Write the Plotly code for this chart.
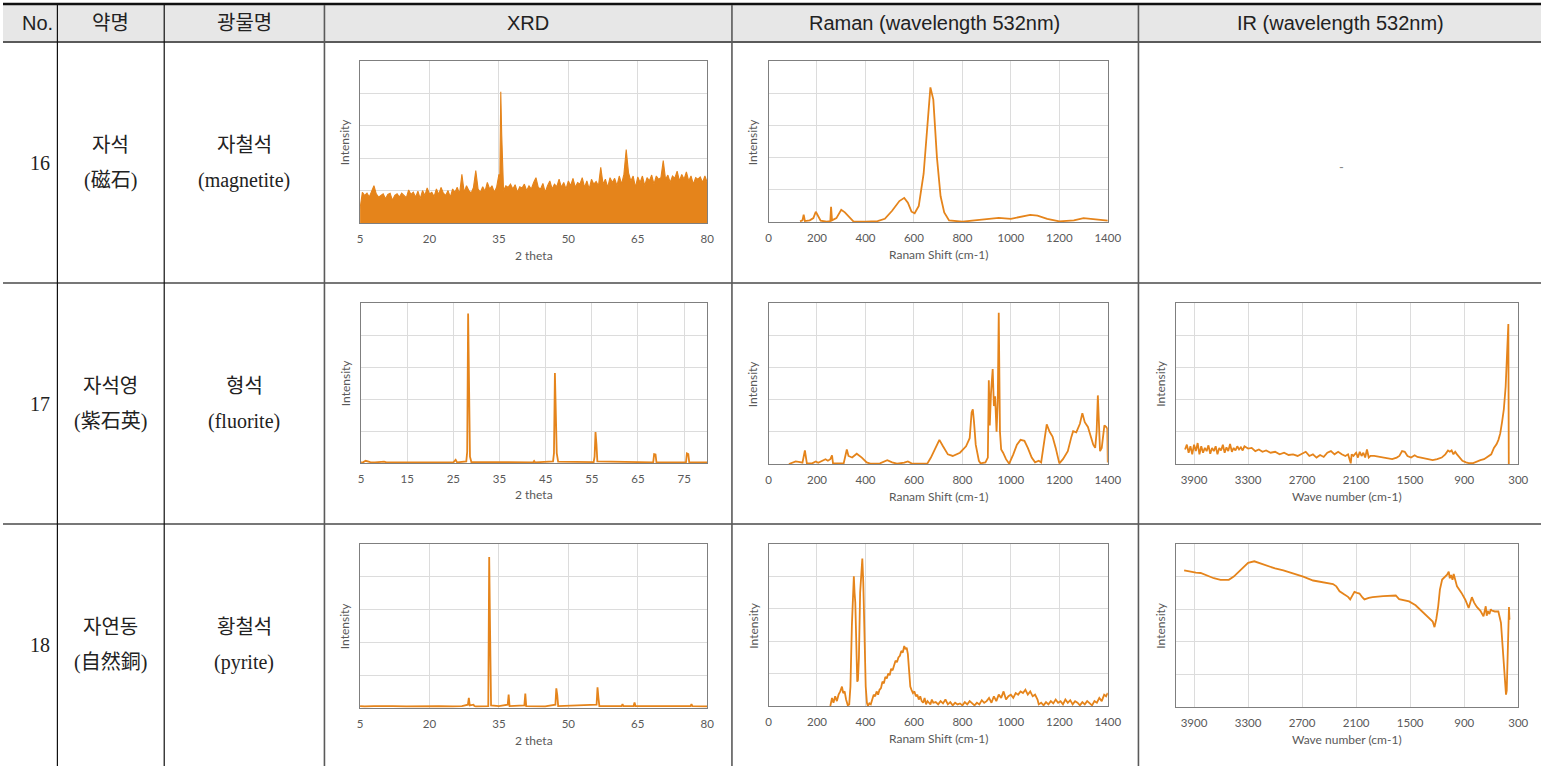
import plotly.graph_objects as go

# ---------------- DATA ----------------
header_labels = ["No.", "약명", "광물명", "XRD", "Raman (wavelength 532nm)", "IR (wavelength 532nm)"]
row_numbers = ["16", "17", "18"]
drug_names = ["자석", "자석영", "자연동"]
drug_hanja = ["(磁石)", "(紫石英)", "(自然銅)"]
mineral_names = ["자철석", "형석", "황철석"]
mineral_en = ["(magnetite)", "(fluorite)", "(pyrite)"]

xrd_ticks_16 = [5, 20, 35, 50, 65, 80]
xrd_ticks_17 = [5, 15, 25, 35, 45, 55, 65, 75]
xrd_ticks_18 = [5, 20, 35, 50, 65, 80]
raman_ticks = [0, 200, 400, 600, 800, 1000, 1200, 1400]
ir_ticks = [3900, 3300, 2700, 2100, 1500, 900, 300]

# XRD 16 magnetite (noisy envelope)
xrd16_x = [5.0, 5.5, 6.0, 6.5, 7.0, 7.5, 8.0, 8.5, 9.0, 9.5, 10.0, 10.5, 11.0, 11.5, 12.0, 12.5,
           13.0, 13.5, 14.0, 14.5, 15.0, 15.5, 16.0, 16.5, 17.0, 17.5, 18.0, 18.5, 19.0, 19.5,
           20.0, 20.5, 21.0, 21.5, 22.0, 22.5, 23.0, 23.5, 24.0, 24.5, 25.0, 25.5, 26.0, 26.5,
           27.0, 27.5, 28.0, 28.5, 29.0, 29.5, 30.0, 30.5, 31.0, 31.5, 32.0, 32.5, 33.0, 33.5,
           34.0, 34.5, 35.0, 35.2, 35.4, 35.6, 35.8, 36.0, 36.5, 37.0, 37.5, 38.0, 38.5, 39.0,
           39.5, 40.0, 40.5, 41.0, 41.5, 42.0, 42.5, 43.0, 43.5, 44.0, 44.5, 45.0, 45.5, 46.0,
           46.5, 47.0, 47.5, 48.0, 48.5, 49.0, 49.5, 50.0, 50.5, 51.0, 51.5, 52.0, 52.5, 53.0,
           53.5, 54.0, 54.5, 55.0, 55.5, 56.0, 56.5, 57.0, 57.5, 58.0, 58.5, 59.0, 59.5, 60.0,
           60.5, 61.0, 61.5, 62.0, 62.5, 63.0, 63.5, 64.0, 64.5, 65.0, 65.5, 66.0, 66.5, 67.0,
           67.5, 68.0, 68.5, 69.0, 69.5, 70.0, 70.5, 71.0, 71.5, 72.0, 72.5, 73.0, 73.5, 74.0,
           74.5, 75.0, 75.5, 76.0, 76.5, 77.0, 77.5, 78.0, 78.5, 79.0, 79.5, 80.0]
xrd16_y = [0.45, 0.95, 0.85, 0.92, 0.80, 0.95, 1.15, 0.90, 0.80, 0.85, 0.90, 0.75, 0.88, 0.92, 0.70, 0.85,
           0.90, 0.80, 0.92, 0.85, 0.78, 1.02, 0.88, 0.95, 0.80, 0.98, 0.75, 1.00, 0.85, 1.08,
           0.90, 0.95, 0.82, 1.05, 0.88, 1.10, 0.92, 0.85, 1.00, 0.80, 1.05, 0.95, 1.10, 0.90,
           1.50, 0.95, 1.15, 1.00, 0.92, 1.10, 1.62, 1.05, 0.95, 1.12, 0.98, 1.25, 1.05, 1.15,
           0.95, 1.10, 1.50, 1.40, 4.05, 2.75, 1.30, 1.00, 1.15, 1.10, 1.20, 1.05, 1.18, 0.95,
           1.12, 1.08, 1.20, 1.00, 1.15, 1.05, 1.25, 1.40, 1.10, 1.05, 1.22, 0.95, 1.15, 1.30,
           1.05, 1.20, 1.12, 1.35, 1.10, 1.25, 1.05, 1.30, 1.15, 1.38, 1.10, 1.25, 1.20, 1.40,
           1.10, 1.30, 1.05, 1.35, 1.20, 1.28, 1.15, 1.72, 1.20, 1.35, 1.10, 1.40, 1.25, 1.38,
           1.15, 1.45, 1.20, 1.50, 2.27, 1.55, 1.30, 1.45, 1.10, 1.42, 1.25, 1.45, 1.15, 1.40,
           1.30, 1.48, 1.20, 1.45, 1.35, 1.40, 1.93, 1.35, 1.48, 1.25, 1.45, 1.38, 1.60, 1.30,
           1.50, 1.35, 1.58, 1.30, 1.45, 1.20, 1.40, 1.35, 1.42, 1.25, 1.45, 1.25]

# XRD 17 fluorite
xrd17_x = [5, 5.5, 6, 6.5, 7, 8, 10, 10.5, 15, 20, 25, 25.5, 25.8, 27.8, 28.0, 28.2, 28.4, 28.6, 28.9,
           35, 42.3, 42.5, 42.7, 46.6, 46.8, 47.0, 47.2, 47.4, 47.7, 55.4, 55.6, 55.8, 56.0, 56.2,
           68.3, 68.5, 68.8, 69.0, 75.4, 75.6, 75.9, 76.1, 80]
xrd17_y = [0.02, 0.03, 0.07, 0.05, 0.03, 0.02, 0.04, 0.02, 0.02, 0.02, 0.02, 0.10, 0.02, 0.05, 0.35, 4.67, 2.71, 0.20, 0.03,
           0.02, 0.02, 0.06, 0.02, 0.05, 0.31, 2.81, 1.64, 0.31, 0.04, 0.03, 0.20, 0.97, 0.59, 0.05,
           0.02, 0.28, 0.27, 0.02, 0.02, 0.30, 0.28, 0.03, 0.02]

# XRD 18 pyrite
xrd18_x = [5, 6, 8, 10, 12, 15, 18, 20, 22, 25, 27, 28.3, 28.5, 28.7, 29.5, 29.7, 30, 32.7, 32.9, 33.1, 33.3,
           35, 36.9, 37.1, 37.3, 40.5, 40.7, 40.9, 45, 47.2, 47.4, 47.6, 47.8, 56.1, 56.3, 56.5, 56.7,
           58, 61.5, 61.7, 61.9, 64.1, 64.3, 64.5, 70, 76.4, 76.6, 76.8, 80]
xrd18_y = [0.06, 0.05, 0.06, 0.05, 0.06, 0.05, 0.06, 0.05, 0.06, 0.05, 0.06, 0.1, 0.31, 0.08, 0.1, 0.06, 0.05, 0.06, 4.6, 2.25, 0.08,
           0.06, 0.1, 0.41, 0.06, 0.08, 0.44, 0.06, 0.05, 0.1, 0.60, 0.40, 0.06, 0.1, 0.63, 0.31, 0.06,
           0.06, 0.06, 0.12, 0.06, 0.06, 0.17, 0.06, 0.05, 0.06, 0.12, 0.06, 0.05]

# Raman 16 magnetite
raman16_x = [130, 140, 145, 150, 170, 185, 195, 205, 215, 240, 255, 258, 262, 280, 300, 315, 335, 350,
             400, 450, 480, 510, 540, 560, 575, 590, 603, 620, 640, 655, 668, 680, 695, 710, 725, 745,
             800, 850, 900, 950, 1000, 1050, 1080, 1110, 1150, 1200, 1260, 1300, 1340, 1380, 1400]
raman16_y = [0.02, 0.05, 0.23, 0.03, 0.05, 0.12, 0.32, 0.20, 0.04, 0.01, 0.03, 0.47, 0.05, 0.12, 0.38, 0.30, 0.12, 0.02,
             0.01, 0.03, 0.10, 0.35, 0.65, 0.75, 0.60, 0.32, 0.27, 0.50, 1.50, 3.00, 4.18, 3.80, 2.00, 0.80, 0.30, 0.05,
             0.01, 0.05, 0.10, 0.13, 0.10, 0.18, 0.22, 0.20, 0.10, 0.02, 0.05, 0.12, 0.08, 0.05, 0.04]

# Raman 17 fluorite
raman17_x = [84, 100, 112, 130, 140, 150, 158, 180, 195, 205, 220, 235, 245, 255, 262, 266, 310, 318, 323, 330,
             345, 364, 385, 405, 420, 460, 490, 510, 530, 560, 575, 590, 655, 670, 690, 705, 720, 740, 760,
             790, 815, 830, 838, 843, 848, 855, 868, 875, 895, 905, 909, 913, 918, 925, 930, 935, 941, 946,
             950, 955, 960, 968, 980, 993, 1010, 1025, 1040, 1056, 1070, 1086, 1100, 1115, 1125, 1138, 1148,
             1160, 1172, 1185, 1200, 1215, 1235, 1250, 1257, 1270, 1285, 1295, 1305, 1318, 1330, 1340, 1348,
             1354, 1359, 1364, 1368, 1375, 1382, 1386, 1393, 1398, 1400]
raman17_y = [0.0, 0.05, 0.08, 0.06, 0.04, 0.42, 0.03, 0.02, 0.08, 0.04, 0.10, 0.15, 0.10, 0.15, 0.27, 0.02, 0.02, 0.25, 0.45, 0.25,
             0.20, 0.32, 0.20, 0.05, 0.01, 0.02, 0.12, 0.05, 0.01, 0.04, 0.08, 0.02, 0.01, 0.20, 0.50, 0.75, 0.55, 0.30, 0.25,
             0.35, 0.55, 0.80, 1.60, 1.70, 1.30, 0.60, 0.10, 0.02, 0.05, 0.20, 2.60, 1.20, 2.20, 2.95, 1.80, 2.10, 1.00, 2.00,
             4.70, 1.00, 0.45, 0.35, 0.15, 0.01, 0.30, 0.60, 0.75, 0.72, 0.50, 0.20, 0.05, 0.10, 0.05, 0.70, 1.23,
             1.00, 0.85, 0.50, 0.02, 0.15, 0.40, 0.85, 1.02, 0.98, 1.25, 1.58, 1.30, 1.15, 0.80, 0.60, 0.50,
             1.00, 2.13, 1.20, 0.40, 0.50, 1.00, 1.20, 1.15, 1.10, 0.05]

# Raman 18 pyrite
raman18_x = [255, 262, 268, 275, 282, 289, 296, 303, 308, 314, 320, 327, 333, 338, 344, 349, 352, 355, 358, 362,
             366, 369, 373, 378, 384, 387, 391, 396, 401, 406, 410, 416, 422, 428, 434, 440, 446, 452, 458,
             464, 470, 476, 482, 488, 494, 500, 506, 512, 518, 524, 530, 536, 542, 548, 554, 560, 565, 570,
             575, 580, 585, 590, 596, 602, 608, 614, 620, 626, 632, 638, 644, 650, 656, 662, 668, 674, 680,
             690, 700, 710, 720, 730, 740, 750, 760, 770, 780, 790, 800, 810, 820, 830, 840, 850, 860, 870,
             880, 890, 900, 910, 920, 930, 940, 950, 960, 970, 980, 990, 1000, 1010, 1020, 1030, 1040, 1050,
             1060, 1070, 1080, 1090, 1100, 1110, 1115, 1125, 1135, 1145, 1155, 1165, 1175, 1185, 1195, 1205,
             1215, 1225, 1235, 1245, 1255, 1265, 1275, 1285, 1295, 1305, 1315, 1325, 1335, 1345, 1355, 1365,
             1375, 1385, 1393, 1400]
raman18_y = [0.0, 0.25, 0.10, 0.30, 0.15, 0.35, 0.45, 0.60, 0.40, 0.45, 0.20, 0.02, 0.05, 0.60, 2.50, 3.90, 4.00, 3.50, 3.20, 2.00,
             0.75, 0.80, 1.50, 3.50, 4.40, 4.55, 3.80, 2.00, 0.60, 0.10, 0.00, 0.08, 0.05, 0.20, 0.35, 0.30, 0.45, 0.35, 0.50,
             0.55, 0.75, 0.70, 0.90, 0.85, 1.00, 0.95, 1.15, 1.10, 1.30, 1.40, 1.35, 1.50, 1.55, 1.70, 1.65, 1.85, 1.75, 1.80,
             1.60, 1.10, 0.60, 0.50, 0.40, 0.45, 0.30, 0.35, 0.20, 0.30, 0.15, 0.10, 0.25, 0.05, 0.15, 0.10, 0.05, 0.20, 0.10,
             0.12, 0.05, 0.15, 0.08, 0.20, 0.05, 0.12, 0.02, 0.10, 0.05, 0.08, 0.02, 0.12, 0.05, 0.15, 0.08, 0.02, 0.10, 0.05,
             0.18, 0.10, 0.15, 0.25, 0.10, 0.30, 0.15, 0.35, 0.25, 0.45, 0.20, 0.30, 0.35, 0.25, 0.40, 0.35, 0.45, 0.40,
             0.50, 0.35, 0.45, 0.30, 0.35, 0.20, 0.05, 0.10, 0.02, 0.12, 0.05, 0.15, 0.08, 0.20, 0.10, 0.15,
             0.05, 0.20, 0.10, 0.18, 0.05, 0.15, 0.10, 0.02, 0.12, 0.05, 0.15, 0.08, 0.02, 0.15, 0.10, 0.25,
             0.15, 0.35, 0.30, 0.40]

# IR 17 fluorite
ir17_x = [4000, 3980, 3960, 3940, 3920, 3900, 3880, 3860, 3840, 3820, 3800, 3780, 3760, 3740, 3720, 3700,
          3680, 3660, 3640, 3620, 3600, 3580, 3560, 3540, 3520, 3500, 3480, 3460, 3440, 3420, 3400, 3380,
          3360, 3340, 3300, 3260, 3220, 3180, 3140, 3100, 3050, 3000, 2950, 2900, 2850, 2800, 2750, 2700,
          2660, 2620, 2580, 2540, 2500, 2460, 2420, 2380, 2340, 2300, 2260, 2220, 2190, 2160, 2150, 2130,
          2100, 2080, 2060, 2040, 2020, 2000, 1980, 1960, 1940, 1900, 1850, 1800, 1750, 1700, 1650, 1620,
          1590, 1560, 1530, 1490, 1450, 1420, 1380, 1340, 1300, 1250, 1200, 1150, 1110, 1080, 1060, 1040,
          1020, 1000, 980, 950, 920, 880, 850, 800, 760, 720, 680, 640, 600, 570, 540, 520, 500, 480, 460,
          440, 425, 415, 410, 405]
ir17_y = [0.45, 0.60, 0.35, 0.55, 0.30, 0.60, 0.40, 0.65, 0.30, 0.55, 0.35, 0.50, 0.40, 0.58, 0.32, 0.50,
          0.40, 0.55, 0.30, 0.50, 0.42, 0.60, 0.35, 0.52, 0.40, 0.62, 0.38, 0.50, 0.42, 0.55, 0.45, 0.52,
          0.42, 0.55, 0.48, 0.50, 0.40, 0.45, 0.38, 0.42, 0.35, 0.38, 0.30, 0.35, 0.28, 0.30, 0.25, 0.32,
          0.38, 0.25, 0.30, 0.20, 0.28, 0.22, 0.35, 0.40, 0.30, 0.38, 0.30, 0.25, 0.30, 0.02, 0.30, 0.25,
          0.35, 0.20, 0.38, 0.25, 0.35, 0.20, 0.45, 0.20, 0.25, 0.25, 0.22, 0.20, 0.18, 0.15, 0.20, 0.25,
          0.40, 0.38, 0.25, 0.20, 0.27, 0.22, 0.20, 0.18, 0.15, 0.12, 0.15, 0.20, 0.30, 0.42, 0.38, 0.42,
          0.30, 0.38, 0.30, 0.20, 0.10, 0.05, 0.03, 0.03, 0.08, 0.12, 0.15, 0.22, 0.30, 0.50, 0.62, 0.75, 0.95, 1.30, 1.70,
          2.40, 3.30, 4.15, 4.35, 0.00]

# IR 18 pyrite
ir18_x = [4010, 3950, 3880, 3827, 3750, 3680, 3606, 3514, 3459, 3400, 3349, 3300, 3231, 3160, 3092, 3000,
          2908, 2800, 2688, 2578, 2460, 2357, 2320, 2284, 2230, 2190, 2166, 2140, 2119, 2090, 2063, 2030,
          2008, 1960, 1917, 1800, 1700, 1660, 1623, 1570, 1512, 1440, 1366, 1292, 1250, 1230, 1210, 1189,
          1170, 1145, 1110, 1090, 1072, 1060, 1046, 1030, 1017, 980, 930, 888, 851, 815, 790, 760, 720,
          686, 661, 650, 639, 620, 605, 594, 560, 521, 492, 466, 447, 436, 428, 422, 412, 403, 398, 392]
ir18_y = [4.19, 4.15, 4.12, 4.11, 4.02, 3.95, 3.90, 3.90, 4.00, 4.15, 4.31, 4.42, 4.47, 4.40, 4.33, 4.25,
          4.19, 4.10, 4.00, 3.88, 3.83, 3.77, 3.70, 3.55, 3.45, 3.38, 3.30, 3.45, 3.53, 3.50, 3.48, 3.36,
          3.30, 3.35, 3.37, 3.40, 3.40, 3.42, 3.31, 3.28, 3.24, 3.12, 2.93, 2.73, 2.62, 2.45, 2.70, 3.09,
          3.60, 3.91, 4.00, 4.06, 4.15, 3.95, 4.05, 3.90, 4.08, 3.70, 3.50, 3.29, 3.04, 3.37, 3.20, 3.07, 2.95,
          2.78, 3.09, 2.80, 2.95, 2.85, 3.00, 2.96, 2.93, 2.93, 2.58, 1.66, 1.04, 0.38, 0.50, 1.15, 2.40, 3.07, 2.70, 2.68]

# ---------------- LAYOUT HELPERS ----------------
W, H = 1555, 766
ORANGE = "#E5841B"
TICK_FONT = dict(family="Lato, 'Open Sans', sans-serif", size=11.5, color="#595959")
TITLE_FONT = dict(family="Lato, 'Open Sans', sans-serif", size=12, color="#595959")


def px(x):
    return x / W


def py(y):
    return 1 - y / H


panels = [
    # (x, y, xrange, ticks, box(left, right, top, bottom), xtitle, fill)
    (xrd16_x, xrd16_y, [5, 80], xrd_ticks_16, (361, 712, 61, 223), "2 theta", True),
    (raman16_x, raman16_y, [0, 1400], raman_ticks, (774, 1117, 61, 222), "Ranam Shift (cm-1)", False),
    (xrd17_x, xrd17_y, [5, 80], xrd_ticks_17, (362, 712, 303, 463), "2 theta", False),
    (raman17_x, raman17_y, [0, 1400], raman_ticks, (774, 1117, 303, 464), "Ranam Shift (cm-1)", False),
    (ir17_x, ir17_y, [4100, 300], ir_ticks, (1186, 1532, 303, 464), "Wave number (cm-1)", False),
    (xrd18_x, xrd18_y, [5, 80], xrd_ticks_18, (361, 712, 544, 708), "2 theta", False),
    (raman18_x, raman18_y, [0, 1400], raman_ticks, (774, 1117, 544, 706), "Ranam Shift (cm-1)", False),
    (ir18_x, ir18_y, [4100, 300], ir_ticks, (1186, 1532, 544, 707), "Wave number (cm-1)", False),
]

fig = go.Figure()
layout = dict(
    margin=dict(l=0, r=0, t=0, b=0),
    paper_bgcolor="white", plot_bgcolor="white", showlegend=False,
)
annotations = []
shapes = []

for i, (xs, ys, xr, tv, box, xtitle, fill) in enumerate(panels, start=1):
    l, r, t, b = box
    xa = "x" if i == 1 else f"x{i}"
    ya = "y" if i == 1 else f"y{i}"
    fig.add_trace(go.Scatter(
        x=xs, y=ys, xaxis=xa, yaxis=ya, mode="lines",
        line=dict(color=ORANGE, width=1.1 if fill else 1.8),
        fill="tozeroy" if fill else None,
        fillcolor=ORANGE if fill else None,
        hoverinfo="skip",
    ))
    axis_common = dict(showline=True, mirror=True, linecolor="#7f7f7f", linewidth=1,
                       showgrid=True, gridcolor="#dcdcdc", gridwidth=1, zeroline=False,
                       fixedrange=True)
    layout["xaxis" if i == 1 else f"xaxis{i}"] = dict(
        domain=[px(l), px(r)], anchor=ya, range=xr, tickmode="array", tickvals=tv,
        ticks="", tickfont=TICK_FONT, ticklabelstandoff=5, **axis_common)
    layout["yaxis" if i == 1 else f"yaxis{i}"] = dict(
        domain=[py(b), py(t)], anchor=xa, range=[0, 5], dtick=1, showticklabels=False,
        ticks="", **axis_common)
    annotations.append(dict(x=px((l + r) / 2), y=py(b + 32), xref="paper", yref="paper",
                            text=xtitle, showarrow=False, font=TITLE_FONT,
                            xanchor="center", yanchor="middle"))
    annotations.append(dict(x=px(l - 16), y=py((t + b) / 2), xref="paper", yref="paper",
                            text="Intensity", showarrow=False, font=TITLE_FONT, textangle=-90,
                            xanchor="center", yanchor="middle"))

# ---------------- TABLE ----------------
shapes.append(dict(type="rect", xref="paper", yref="paper", x0=0, x1=1, y0=py(41), y1=py(5),
                   fillcolor="#E7E7E7", line=dict(width=0), layer="below"))
shapes.append(dict(type="line", xref="paper", yref="paper", x0=0, x1=1, y0=py(4), y1=py(4),
                   line=dict(color="#111111", width=2.5)))
shapes.append(dict(type="line", xref="paper", yref="paper", x0=0, x1=1, y0=py(42), y1=py(42),
                   line=dict(color="#5a5a5a", width=2)))
for yy in [283, 524]:
    shapes.append(dict(type="line", xref="paper", yref="paper", x0=0, x1=1, y0=py(yy), y1=py(yy),
                       line=dict(color="#4a4a4a", width=1.6)))
for xx, col, w in [(55, "#111111", 1.2), (163, "#111111", 1.2), (325, "#5a5a5a", 1.6),
                   (737, "#5a5a5a", 1.6), (1148, "#5a5a5a", 1.6)]:
    shapes.append(dict(type="line", xref="paper", yref="paper", x0=px(xx), x1=px(xx), y0=py(5), y1=0,
                       line=dict(color=col, width=w)))

header_x = [35, 109, 244, 531, 942, 1352]
for hx, lab in zip(header_x, header_labels):
    annotations.append(dict(x=px(hx), y=py(23), xref="paper", yref="paper", text=lab, showarrow=False,
                            font=dict(family="'Liberation Sans', 'Noto Sans CJK KR', sans-serif",
                                      size=20, color="#222222"),
                            xanchor="center", yanchor="middle"))

BODY_FONT = dict(family="'Liberation Serif', 'Noto Sans CJK KR', serif", size=20, color="#222222")
row_centers = [163, 404, 645]
for k, rc in enumerate(row_centers):
    annotations.append(dict(x=px(37), y=py(rc), xref="paper", yref="paper", text=row_numbers[k],
                            showarrow=False, font=BODY_FONT, xanchor="center", yanchor="middle"))
    annotations.append(dict(x=px(109), y=py(rc - 18), xref="paper", yref="paper", text=drug_names[k],
                            showarrow=False, font=BODY_FONT, xanchor="center", yanchor="middle"))
    annotations.append(dict(x=px(109), y=py(rc + 17), xref="paper", yref="paper", text=drug_hanja[k],
                            showarrow=False, font=BODY_FONT, xanchor="center", yanchor="middle"))
    annotations.append(dict(x=px(244), y=py(rc - 18), xref="paper", yref="paper", text=mineral_names[k],
                            showarrow=False, font=BODY_FONT, xanchor="center", yanchor="middle"))
    annotations.append(dict(x=px(244), y=py(rc + 17), xref="paper", yref="paper", text=mineral_en[k],
                            showarrow=False, font=BODY_FONT, xanchor="center", yanchor="middle"))

annotations.append(dict(x=px(1353), y=py(167), xref="paper", yref="paper", text="-", showarrow=False,
                        font=dict(family="Lato, sans-serif", size=13, color="#888888"),
                        xanchor="center", yanchor="middle"))

layout["annotations"] = annotations
layout["shapes"] = shapes
fig.update_layout(**layout)

# The page starts smaller than the window (so it never overflows); once drawn,
# the body margin is removed and the figure is sized to exactly the window.
post_js = (
    "var de=document.documentElement,bd=document.body;"
    "de.style.margin='0';de.style.padding='0';de.style.overflow='hidden';"
    "bd.style.margin='0';bd.style.padding='0';bd.style.overflow='hidden';"
    "var gd=document.getElementById('{plot_id}');"
    "gd.style.width='" + str(W) + "px';gd.style.height='" + str(H) + "px';"
    "Plotly.relayout(gd,{width:" + str(W) + ",height:" + str(H) + "});"
)
fig.write_html("out.html", config={"displayModeBar": False},
               default_width="calc(100vw - 40px)", default_height="calc(100vh - 40px)",
               post_script=post_js)
